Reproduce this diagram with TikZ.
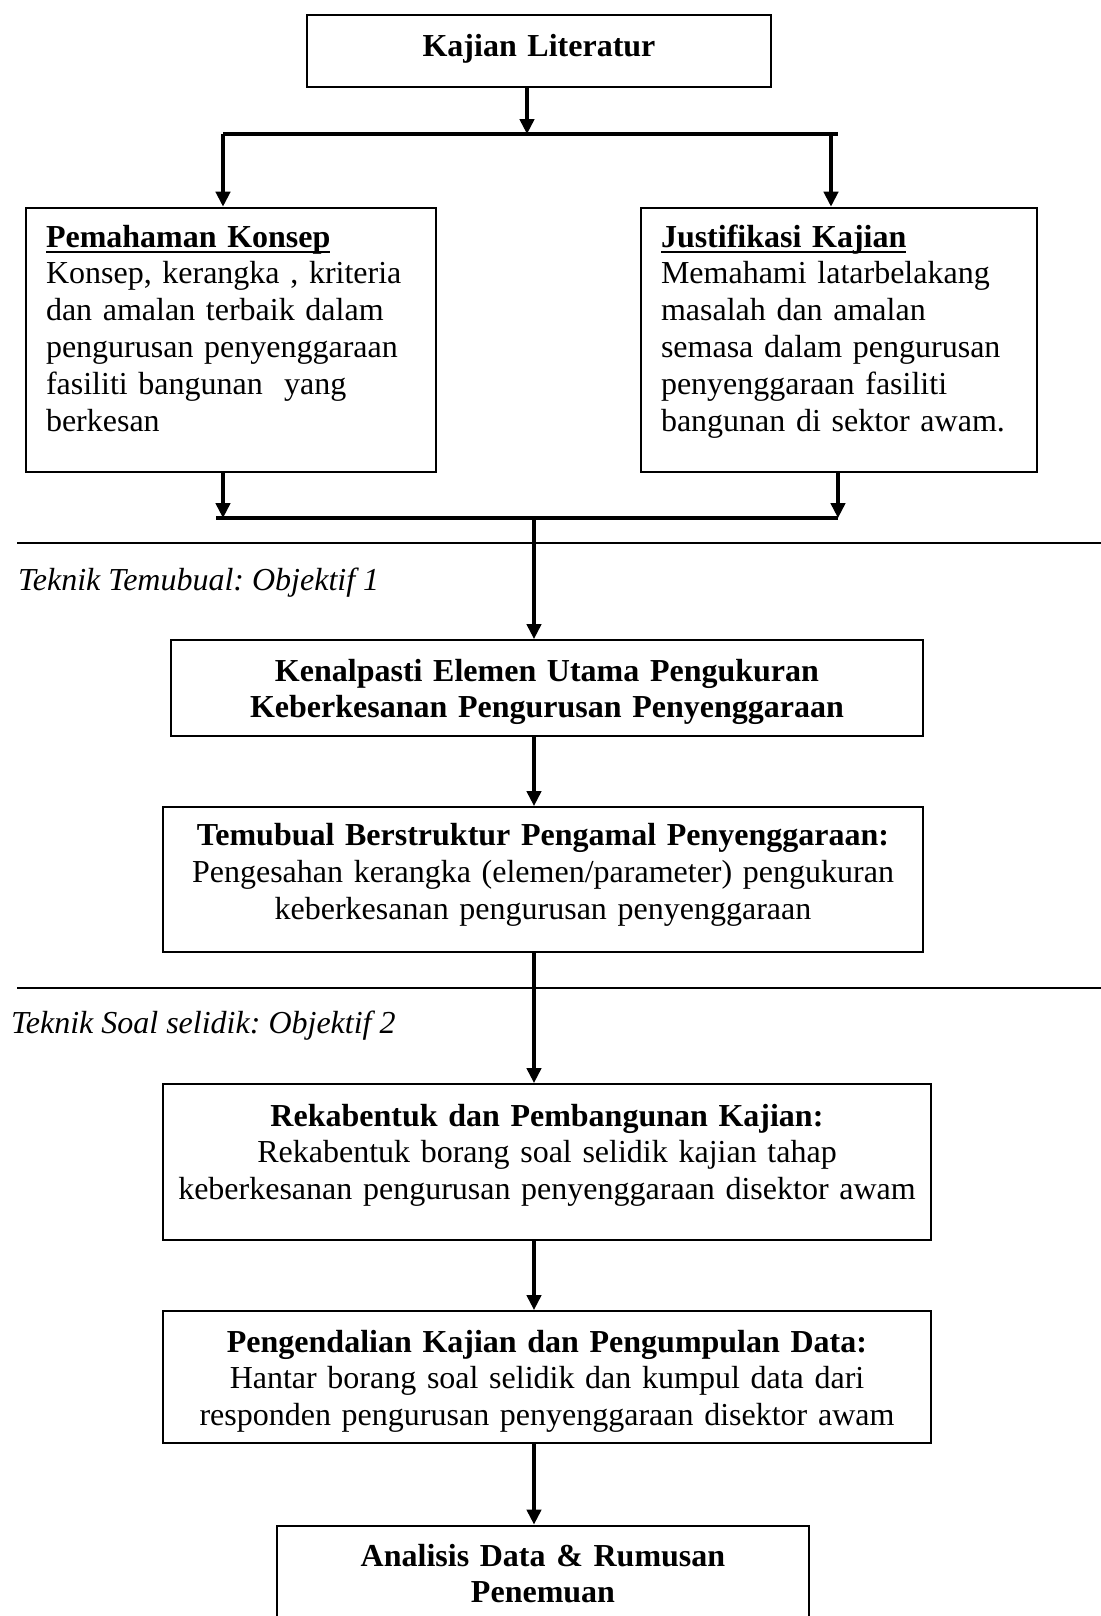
\documentclass[tikz,border=0pt]{standalone}
\usepackage{fontspec}
\setmainfont{Liberation Serif}
\newsavebox{\titlebox}
\newcommand{\ultitle}[1]{\sbox{\titlebox}{#1}\rlap{\rule[-2.2pt]{\wd\titlebox}{0.8pt}}\usebox{\titlebox}}
\frenchspacing
\usetikzlibrary{arrows.meta}
\tikzstyle{boxnode} = [rectangle, draw=black, line width=0.75pt, inner xsep=3pt, inner ysep=0pt, align=center, anchor=north west, font=\fontsize{12}{13.8}\selectfont]
\tikzstyle{leftnode} = [boxnode, inner xsep=7.5pt, align=left]
\tikzstyle{arrow} = [line width=1.2pt, -{Triangle[length=5.6pt,width=5.4pt]}]
\tikzstyle{splitbar} = [line width=1.3pt]
\tikzstyle{sepline} = [line width=0.75pt]
\tikzstyle{teknik} = [anchor=base west, inner sep=0pt, font=\fontsize{12}{13.8}\selectfont\itshape]

\begin{document}
\begin{tikzpicture}[x=0.375pt, y=-0.375pt]
        \clip (0,0) rectangle (1101,1616);
        \useasboundingbox (0,0) rectangle (1101,1616);

        \node (lit) [boxnode, text width=168pt, text height=15.4pt, text depth=11.6pt] at (306,14) {\textbf{Kajian Literatur}};
        \node (konsep) [leftnode, text width=138.75pt, text height=14.8pt, text depth=84.3pt] at (25,206.6) {\ultitle{\textbf{Pemahaman Konsep}}\\ Konsep, kerangka , kriteria\\ dan amalan terbaik dalam\\ pengurusan penyenggaraan\\ fasiliti bangunan\ \ yang\\ berkesan};
        \node (justif) [leftnode, text width=133.5pt, text height=14.8pt, text depth=84.3pt] at (640,206.6) {\ultitle{\textbf{Justifikasi Kajian}}\\ Memahami latarbelakang\\ masalah dan amalan\\ semasa dalam pengurusan\\ penyenggaraan fasiliti\\ bangunan di sektor awam.};
        \node (elemen) [boxnode, text width=276pt, text height=15.4pt, text depth=20.6pt] at (170,639) {\textbf{Kenalpasti Elemen Utama Pengukuran}\\ \textbf{Keberkesanan Pengurusan Penyenggaraan}};
        \node (temubual) [boxnode, text width=279pt, text height=14.6pt, text depth=39.75pt] at (162,806) {\textbf{Temubual Berstruktur Pengamal Penyenggaraan:}\\ Pengesahan kerangka (elemen/parameter) pengukuran\\ keberkesanan pengurusan penyenggaraan};
        \node (rekabentuk) [boxnode, text width=282pt, text height=15.75pt, text depth=42.75pt] at (162,1083) {\textbf{Rekabentuk dan Pembangunan Kajian:}\\ Rekabentuk borang soal selidik kajian tahap\\ keberkesanan pengurusan penyenggaraan disektor awam};
        \node (pengendalian) [boxnode, text width=282pt, text height=15.4pt, text depth=34.1pt] at (162,1310) {\textbf{Pengendalian Kajian dan Pengumpulan Data:}\\ Hantar borang soal selidik dan kumpul data dari\\ responden pengurusan penyenggaraan disektor awam};
        \node (analisis) [boxnode, text width=193.5pt, text height=15.2pt, text depth=31.9pt] at (276,1524.5) {\textbf{Analisis Data \& Rumusan}\\ \textbf{Penemuan}};

        \node (obj1) [teknik] at (17.5,590.6) {Teknik Temubual: Objektif 1};
        \node (obj2) [teknik] at (10.5,1033) {Teknik Soal selidik: Objektif 2};

        \coordinate (split) at (527,134);
        \coordinate (splitL) at (223,134);
        \coordinate (splitR) at (838,134);
        \coordinate (dropR) at (831,134);
        \coordinate (joinL) at (216,518);
        \coordinate (join) at (534,518);
        \coordinate (joinR) at (838,518);

        \draw [sepline] (17,542.7) -- (1101,542.7);
        \draw [sepline] (17,987.6) -- (1101,987.6);

        \draw [arrow] (lit.south -| split) -- (split);
        \draw [splitbar] (splitL) -- (splitR);
        \draw [arrow] (splitL) -- (splitL |- konsep.north);
        \draw [arrow] (dropR) -- (dropR |- justif.north);
        \draw [arrow] (splitL |- konsep.south) -- (splitL |- join);
        \draw [arrow] (joinR |- justif.south) -- (joinR);
        \draw [splitbar] (joinL) -- (joinR);
        \draw [arrow] (join) -- (join |- elemen.north);
        \draw [arrow] (join |- elemen.south) -- (join |- temubual.north);
        \draw [arrow] (join |- temubual.south) -- (join |- rekabentuk.north);
        \draw [arrow] (join |- rekabentuk.south) -- (join |- pengendalian.north);
        \draw [arrow] (join |- pengendalian.south) -- (join |- analisis.north);
    \end{tikzpicture}
\end{document}
